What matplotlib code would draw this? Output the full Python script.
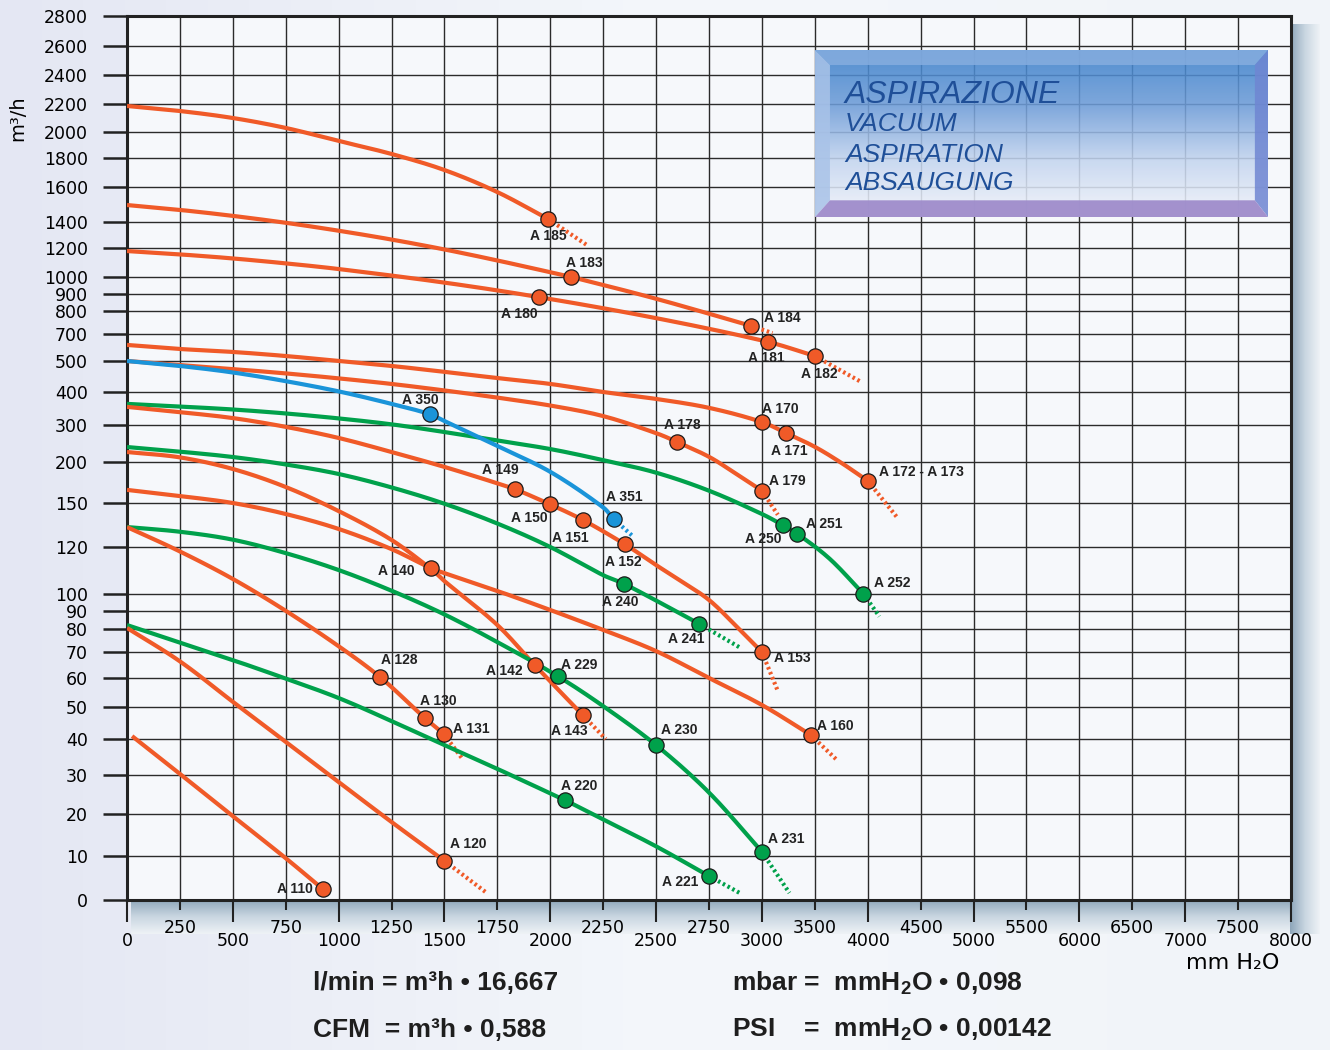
import numpy as np
import matplotlib
matplotlib.use("Agg")
import matplotlib.pyplot as plt
from matplotlib.patches import Polygon
from matplotlib.colors import LinearSegmentedColormap

plt.rcParams["font.family"] = ["DejaVu Sans"]
plt.rcParams["mathtext.fontset"] = "custom"
plt.rcParams["mathtext.rm"] = "Liberation Sans:bold"
plt.rcParams["mathtext.bf"] = "Liberation Sans:bold"
plt.rcParams["mathtext.it"] = "Liberation Sans:bold"

# axis scales (hand drawn, not linear)
Y_TICKS = [0, 10, 20, 30, 40, 50, 60, 70, 80, 90, 100, 120, 150, 200, 300, 400, 500,
           700, 800, 900, 1000, 1200, 1400, 1600, 1800, 2000, 2200, 2400, 2600, 2800]
Y_POS = [0, 44, 86, 125, 161, 193, 222, 248, 271, 289, 306, 353, 397, 438, 475, 508, 539,
         566, 589, 606, 623, 652, 678, 713, 742, 768, 796, 825, 854, 884]
X_TICKS = [0, 250, 500, 750, 1000, 1250, 1500, 1750, 2000, 2250, 2500, 2750, 3000,
           3500, 4000, 4500, 5000, 5500, 6000, 6500, 7000, 7500, 8000]
X_POS = list(range(len(X_TICKS)))

# curves: pressure (mm H2O) vs flow (m3/h)
a185_x = [0, 250, 500, 750, 1000, 1250, 1500, 1750, 1990]
a185_y = [2186, 2150, 2100, 2029, 1931, 1831, 1717, 1571, 1417]
a185_tx = [1990, 2180]
a185_ty = [1417, 1215]

a183_x = [0, 250, 500, 750, 1000, 1250, 1500, 1750, 2000, 2100, 2500, 2950]
a183_y = [1497, 1469, 1435, 1394, 1333, 1265, 1190, 1114, 1033, 1000, 872, 735]
a183_tx = [2950, 3100]
a183_ty = [735, 704]

a180_x = [0, 250, 500, 750, 1000, 1500, 1945, 2500, 3060, 3500]
a180_y = [1179, 1156, 1128, 1094, 1055, 967, 882, 769, 641, 537]
a180_tx = [3500, 3940]
a180_ty = [537, 432]

a170_x = [0, 250, 500, 750, 1000, 1250, 1500, 1750, 2000, 2250, 2500, 2750, 3000, 3230,
          3500, 3750, 4000]
a170_y = [619, 589, 567, 537, 500, 484, 465, 445, 426, 400, 379, 352, 309, 278, 241, 199, 177]
a170_tx = [4000, 4280]
a170_ty = [177, 140]

a178_x = [0, 250, 500, 750, 1000, 1250, 1500, 1750, 2000, 2250, 2500, 2600, 2750, 2870, 3000]
a178_y = [500, 487, 474, 460, 444, 426, 405, 383, 359, 327, 278, 254, 214, 187, 165]
a178_tx = [3000, 3150]
a178_ty = [165, 142]

a350_x = [0, 250, 500, 750, 1000, 1250, 1430, 1500, 1750, 2000, 2250, 2300]
a350_y = [500, 484, 463, 435, 402, 364, 333, 312, 243, 188, 147, 139]
a350_tx = [2300, 2385]
a350_ty = [139, 128]

a250_x = [0, 250, 500, 750, 1000, 1250, 1500, 1750, 2000, 2250, 2500, 2750, 3000, 3195,
          3335, 3640, 3960]
a250_y = [364, 356, 347, 335, 320, 302, 281, 258, 235, 205, 187, 165, 142.5, 135, 129, 115, 100]
a250_tx = [3960, 4110]
a250_ty = [100, 87]

a149_x = [0, 250, 500, 750, 1000, 1250, 1500, 1750, 1832, 2000, 2153, 2351, 2500, 2610,
          2750, 2875, 3000]
a149_y = [355, 339, 321, 295, 265, 227, 194, 174, 167, 149, 138.5, 122, 112.3, 106, 96.5,
          82, 70]
a149_tx = [3000, 3145]
a149_ty = [70, 56]

a240_x = [0, 250, 500, 750, 1000, 1250, 1500, 1750, 2000, 2250, 2350, 2705]
a240_y = [240.5, 228, 213.5, 197, 185.4, 169, 149.5, 136, 120, 108, 104.3, 82.8]
a240_tx = [2705, 2895]
a240_ty = [82.8, 72]

a142_x = [0, 250, 500, 750, 1000, 1250, 1443, 1500, 1750, 1926, 2153]
a142_y = [227, 212.5, 191.5, 169.5, 144.5, 124.8, 110.2, 105.5, 82.2, 65, 47.5]
a142_tx = [2153, 2262]
a142_ty = [47.5, 40]

a140_x = [0, 250, 500, 750, 1000, 1250, 1435, 1500, 1750, 2000, 2250, 2500, 2750, 3000, 3460]
a140_y = [166, 158.5, 150, 142.5, 132.3, 119.1, 111, 108.9, 101.3, 90.6, 79.6, 70.4, 60,
          50.7, 41.3]
a140_tx = [3460, 3715]
a140_ty = [41.3, 34]

a128_x = [0, 250, 500, 750, 1000, 1195, 1407, 1497]
a128_y = [133.6, 118.1, 106.4, 90.1, 72.5, 60.4, 46.6, 41.6]
a128_tx = [1497, 1586]
a128_ty = [41.6, 34.4]

a229_x = [0, 250, 500, 750, 1000, 1250, 1500, 1750, 2035, 2250, 2500, 2750, 3000]
a229_y = [133.6, 130.4, 125, 117.4, 110.2, 101.4, 88.1, 74.3, 60.7, 50.3, 38.3, 25.5, 11]
a229_tx = [3000, 3260]
a229_ty = [11, 1.6]

a220_x = [0, 250, 500, 750, 1000, 1250, 1500, 1750, 2000, 2068, 2250, 2500, 2748]
a220_y = [82.2, 74.1, 66.9, 59.8, 53.1, 45.6, 38.3, 31.7, 25.3, 23.6, 18.7, 12.3, 5.5]
a220_tx = [2748, 2895]
a220_ty = [5.5, 1.6]

a120_x = [0, 250, 500, 750, 1000, 1250, 1500]
a120_y = [80.6, 66.4, 51.8, 39.2, 28.2, 18.1, 8.9]
a120_tx = [1500, 1700]
a120_ty = [8.9, 1.6]

a110_x = [24, 250, 500, 750, 925]
a110_y = [40.9, 30.3, 19.5, 9.5, 2.5]

# model points
pt_names = ["A 185", "A 183", "A 180", "A 184", "A 181", "A 182", "A 170", "A 171",
            "A 172 - A 173", "A 178", "A 179", "A 350", "A 351", "A 149", "A 150", "A 151",
            "A 152", "A 250", "A 251", "A 252", "A 240", "A 241", "A 153", "A 140", "A 128",
            "A 142", "A 229", "A 143", "A 130", "A 131", "A 160", "A 230", "A 220", "A 231",
            "A 120", "A 221", "A 110"]
pt_x = [1990, 2100, 1945, 2950, 3060, 3500, 3000, 3230, 4000, 2600, 3000, 1430, 2300, 1832,
        2000, 2153, 2351, 3195, 3335, 3960, 2350, 2705, 3000, 1435, 1195, 1926, 2035, 2153,
        1407, 1497, 3460, 2500, 2068, 3000, 1500, 2748, 925]
pt_y = [1417, 1000, 882, 735, 641, 537, 309, 278, 177, 254, 165, 333, 139, 167, 149, 138.5,
        122, 135, 129, 100, 104.3, 82.8, 70, 111, 60.4, 65, 60.7, 47.5, 46.6, 41.6, 41.3,
        38.3, 23.6, 11, 8.9, 5.5, 2.5]
pt_kind = ["o", "o", "o", "o", "o", "o", "o", "o", "o", "o", "o", "b", "b", "o", "o", "o",
           "o", "g", "g", "g", "g", "g", "o", "o", "o", "o", "g", "o", "o", "o", "o", "g",
           "g", "g", "o", "g", "o"]

ORANGE = "#f05a28"
GREEN = "#00a14b"
BLUE = "#1a94d9"
COLORS = {"o": ORANGE, "g": GREEN, "b": BLUE}

# label offsets in pixels
LABEL_OFF = {
    "A 185": (0, -17), "A 183": (13, 14), "A 180": (-19, -17), "A 184": (31, 8),
    "A 181": (-2, -16), "A 182": (4, -18), "A 170": (18, 13), "A 171": (3, -18),
    "A 172 - A 173": (54, 9), "A 178": (5, 17), "A 179": (25, 10), "A 350": (-9, 14),
    "A 351": (11, 22), "A 149": (-14, 19), "A 150": (-21, -14), "A 151": (-12, -18),
    "A 152": (-1, -18), "A 250": (-19, -14), "A 251": (27, 10), "A 252": (29, 11),
    "A 240": (-4, -18), "A 241": (-13, -15), "A 153": (30, -6), "A 140": (-34, -3),
    "A 128": (19, 17), "A 142": (-30, -6), "A 229": (22, 11), "A 143": (-13, -16),
    "A 130": (14, 17), "A 131": (27, 5), "A 160": (25, 9), "A 230": (23, 15),
    "A 220": (15, 14), "A 231": (24, 13), "A 120": (24, 17), "A 221": (-28, -6),
    "A 110": (-28, 0),
}

W, H = 1330, 1050


def fx(p):
    return p / W


def fy(p):
    return 1 - p / H


def yf(v):
    return np.interp(v, Y_TICKS, Y_POS)


def yi(p):
    return np.interp(p, Y_POS, Y_TICKS)


def xf(v):
    return np.interp(v, X_TICKS, X_POS)


def xi(p):
    return np.interp(p, X_POS, X_TICKS)


def smooth(xs, ys, n=16):
    # hermite spline through the read points, done in the scaled space
    P = np.c_[xf(np.asarray(xs, float)) * 52.9, yf(np.asarray(ys, float))]
    if len(P) < 3:
        return xs, ys
    t = np.r_[0, np.cumsum(np.hypot(*np.diff(P, axis=0).T))]
    m = np.zeros_like(P)
    m[1:-1] = (P[2:] - P[:-2]) / (t[2:] - t[:-2])[:, None]
    m[0] = (P[1] - P[0]) / (t[1] - t[0])
    m[-1] = (P[-1] - P[-2]) / (t[-1] - t[-2])
    s = np.linspace(0, 1, n, endpoint=False)[:, None]
    h00 = 2 * s**3 - 3 * s**2 + 1
    h10 = s**3 - 2 * s**2 + s
    h01 = -2 * s**3 + 3 * s**2
    h11 = s**3 - s**2
    out = []
    for i in range(len(P) - 1):
        h = t[i + 1] - t[i]
        out.append(h00 * P[i] + h10 * h * m[i] + h01 * P[i + 1] + h11 * h * m[i + 1])
    out.append(P[-1:])
    Q = np.vstack(out)
    return xi(Q[:, 0] / 52.9), yi(Q[:, 1])


fig = plt.figure(figsize=(13.3, 10.5), dpi=100)
fig.patch.set_facecolor("#eef1f7")

# soft background
bg = fig.add_axes([0, 0, 1, 1], zorder=0)
bg.axis("off")
g = np.linspace(0, 1, 256)[None, :]
bg.imshow(g, aspect="auto", extent=[0, 1, 0, 1],
          cmap=LinearSegmentedColormap.from_list("bg", ["#e4e7f3", "#f4f7fb", "#f1f4f9"]))
bg.set_xlim(0, 1)
bg.set_ylim(0, 1)

# 3d shadow of the plot frame
shade = LinearSegmentedColormap.from_list("sh", ["#8ea6ba", "#c9d6e1", "#eef2f6"])
sb = fig.add_axes([fx(131), fy(934), fx(1320) - fx(131), fy(900) - fy(934)], zorder=1)
sb.axis("off")
sb.imshow(np.linspace(0, 1, 64)[:, None], aspect="auto", cmap=shade)
sr = fig.add_axes([fx(1290), fy(934), fx(1320) - fx(1290), fy(24) - fy(934)], zorder=1)
sr.axis("off")
sr.imshow(np.linspace(0, 1, 64)[None, :], aspect="auto", cmap=shade)

ax = fig.add_axes([fx(127), fy(900), fx(1291) - fx(127), fy(16) - fy(900)], zorder=2)
ax.set_facecolor("#f6f8fb")

ax.set_yscale("function", functions=(yf, yi))
ax.set_xscale("function", functions=(xf, xi))
ax.set_xlim(0, 8000)
ax.set_ylim(0, 2800)

ax.set_yticks(Y_TICKS)
ax.set_yticklabels([str(v) for v in Y_TICKS])
ax.yaxis.set_minor_locator(matplotlib.ticker.NullLocator())
ax.set_xticks(X_TICKS[::2])
ax.set_xticklabels([str(v) for v in X_TICKS[::2]])
ax.set_xticks(X_TICKS[1::2], minor=True)
ax.set_xticklabels([str(v) for v in X_TICKS[1::2]], minor=True)

ax.tick_params(axis="y", length=17, width=1.8, pad=11, labelsize=12.5, color="#222")
ax.tick_params(axis="x", which="major", length=16, width=1.5, pad=7, labelsize=12.5, color="#222")
ax.tick_params(axis="x", which="minor", length=7, width=1.5, pad=7, labelsize=12.5, color="#222")
ax.grid(True, axis="x", which="both", color="#2b2b2b", lw=1.0)
ax.grid(True, axis="y", which="major", color="#2b2b2b", lw=1.0)
ax.set_axisbelow(True)
for s in ax.spines.values():
    s.set_linewidth(2.2)
    s.set_color("#222")

curves = [
    (a185_x, a185_y, a185_tx, a185_ty, ORANGE),
    (a183_x, a183_y, a183_tx, a183_ty, ORANGE),
    (a180_x, a180_y, a180_tx, a180_ty, ORANGE),
    (a170_x, a170_y, a170_tx, a170_ty, ORANGE),
    (a178_x, a178_y, a178_tx, a178_ty, ORANGE),
    (a250_x, a250_y, a250_tx, a250_ty, GREEN),
    (a149_x, a149_y, a149_tx, a149_ty, ORANGE),
    (a350_x, a350_y, a350_tx, a350_ty, BLUE),
    (a240_x, a240_y, a240_tx, a240_ty, GREEN),
    (a142_x, a142_y, a142_tx, a142_ty, ORANGE),
    (a140_x, a140_y, a140_tx, a140_ty, ORANGE),
    (a229_x, a229_y, a229_tx, a229_ty, GREEN),
    (a128_x, a128_y, a128_tx, a128_ty, ORANGE),
    (a220_x, a220_y, a220_tx, a220_ty, GREEN),
    (a120_x, a120_y, a120_tx, a120_ty, ORANGE),
    (a110_x, a110_y, None, None, ORANGE),
]
for cx, cy, tx, ty, col in curves:
    sx, sy = smooth(cx, cy)
    ax.plot(sx, sy, color=col, lw=3.0, solid_capstyle="butt", zorder=3)
    if tx is not None:
        ax.plot(tx, ty, color=col, lw=3.0, ls=(0, (0.6, 0.7)), zorder=3)

for name, px_, py_, k in zip(pt_names, pt_x, pt_y, pt_kind):
    ax.plot(px_, py_, "o", ms=11, color=COLORS[k], mec="#1a1a1a", mew=0.9, zorder=5)
    ax.annotate(name, (px_, py_), xytext=LABEL_OFF[name], textcoords="offset pixels",
                ha="center", va="center", fontsize=10, fontweight="bold",
                family=["Liberation Sans", "DejaVu Sans"], color="#222", zorder=6)

# title box
bx = fig.add_axes([fx(815), fy(217), fx(1268) - fx(815), fy(50) - fy(217)], zorder=3)
bx.set_xlim(0, 1)
bx.set_ylim(0, 1)
bx.axis("off")
face = LinearSegmentedColormap.from_list("face", ["#3a80ca", "#6f9dd8", "#c4d5ef", "#f3f5fb"])
bx.imshow(np.linspace(0, 1, 128)[:, None], aspect="auto", cmap=face, alpha=0.88,
          extent=[0, 1, 0, 1])
ix0, ix1, iy0, iy1 = 0.033, 0.971, 0.10, 0.91
bx.add_patch(Polygon([(0, 1), (1, 1), (ix1, iy1), (ix0, iy1)], color="#86addf", alpha=0.85, lw=0))
bx.add_patch(Polygon([(0, 0), (0, 1), (ix0, iy1), (ix0, iy0)], color="#a9c3e8", alpha=0.85, lw=0))
bx.add_patch(Polygon([(1, 0), (1, 1), (ix1, iy1), (ix1, iy0)], color="#6f86d2", alpha=0.85, lw=0))
bx.add_patch(Polygon([(0, 0), (1, 0), (ix1, iy0), (ix0, iy0)], color="#9f8ccb", alpha=0.95, lw=0))

tcol = "#1f4f98"
fig.text(fx(845), fy(103), "ASPIRAZIONE", fontsize=23, style="italic", color=tcol,
         family=["Liberation Sans"], va="baseline", zorder=10)
for txt, base in [("VACUUM", 131), ("ASPIRATION", 162), ("ABSAUGUNG", 190)]:
    fig.text(fx(845), fy(base), txt, fontsize=19, style="italic", color=tcol,
             family=["Liberation Sans"], va="baseline", zorder=10)

fig.text(fx(18), fy(118), "m³/h", rotation=90, fontsize=14, ha="center", va="center")
fig.text(fx(1233), fy(963), "mm H₂O", fontsize=16, ha="center", va="center")

fkw = dict(fontsize=19, fontweight="bold", va="center", ha="left", color="#1e1e1e",
           family=["Liberation Sans"])
fig.text(fx(313), fy(983), "l/min = m³h • 16,667", **fkw)
fig.text(fx(313), fy(1030), "CFM  = m³h • 0,588", **fkw)
fig.text(fx(732), fy(983), "mbar =  mmH$_2$O • 0,098", **fkw)
fig.text(fx(732), fy(1030), "PSI    =  mmH$_2$O • 0,00142", **fkw)

fig.savefig("out.png", dpi=100, facecolor=fig.get_facecolor())
